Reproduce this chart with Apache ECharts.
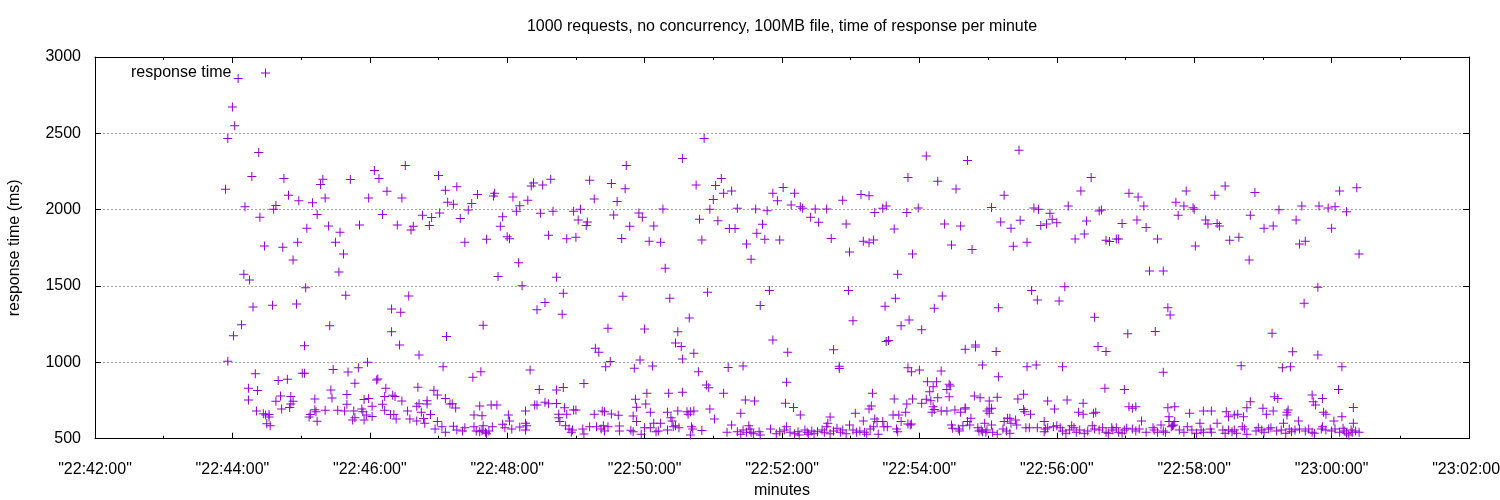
<!DOCTYPE html>
<html><head><meta charset="utf-8">
<script src="https://cdn.jsdelivr.net/npm/echarts@6/dist/echarts.min.js"></script>
<style>html,body{margin:0;padding:0;background:#fff;overflow:hidden}#chart{width:1500px;height:500px}</style>
</head><body><div id="chart"></div>
<script>
const chartTitle = "1000 requests, no concurrency, 100MB file, time of response per minute";
const seriesName = "response time";
const xAxisName = "minutes";
const yAxisName = "response time (ms)";
const xRange = ["22:42:00", "23:02:00"];
const xTickStepSec = 120;
const yRange = [500, 3000];
const yTickStep = 500;

// [time, response ms], grouped by region
const samplesA = [["22:44:05",2860],["22:44:00",2673],["22:44:02",2549],["22:43:56",2466],["22:44:23",2375],["22:44:17",2218],["22:43:54",2133],["22:44:45",2205],["22:45:19",2200],["22:45:17",2165],["22:45:43",2198],["22:46:04",2257],["22:46:08",2205],["22:46:31",2290],["22:47:00",2224],["22:44:49",2094],["22:44:58",2059],["22:45:10",2046],["22:45:21",2076],["22:45:59",2076],["22:46:15",2120],["22:46:28",2076],["22:47:06",2128],["22:47:08",2048],["22:44:11",2019],["22:44:38",2028],["22:44:36",2002],["22:44:24",1950],["22:45:14",1969],["22:46:11",1969],["22:46:46",1963],["22:47:01",1978],["22:46:54",1948],["22:46:52",1897],["22:46:38",1891],["22:46:36",1867],["22:46:24",1900],["22:45:51",1900],["22:45:24",1893],["22:45:05",1878],["22:45:34",1852],["22:45:30",1786],["22:44:57",1786],["22:44:28",1762],["22:44:44",1754],["22:45:37",1710],["22:44:53",1671],["22:45:33",1592],["22:44:10",1577],["22:44:15",1540],["22:45:04",1488],["22:45:39",1440],["22:46:34",1435],["22:44:18",1363],["22:44:35",1374],["22:44:56",1383],["22:46:19",1350],["22:46:27",1328],["22:44:08",1246],["22:45:25",1239],["22:46:19",1200],["22:44:01",1174],["22:46:26",1113],["22:45:03",1108],["22:46:43",1049],["22:43:56",1008],["22:45:58",1001],["22:47:04",971]];
const samplesB = [["22:44:20",926],["22:45:01",928],["22:45:03",928],["22:45:28",954],["22:45:41",937],["22:45:50",965],["22:44:40",882],["22:44:48",889],["22:45:47",863],["22:46:06",884],["22:46:07",891],["22:44:14",830],["22:44:22",815],["22:45:26",819],["22:46:14",830],["22:46:42",837],["22:46:56",817],["22:46:59",786],["22:44:14",754],["22:44:42",780],["22:44:51",776],["22:44:38",745],["22:44:53",745],["22:44:51",727],["22:45:12",760],["22:45:27",766],["22:45:40",790],["22:45:40",725],["22:45:55",756],["22:45:59",764],["22:46:13",776],["22:46:20",784],["22:46:22",777],["22:46:28",747],["22:46:11",725],["22:46:43",729],["22:46:50",749],["22:46:50",727],["22:47:06",764],["22:47:10",727],["22:44:21",681],["22:44:27",664],["22:44:29",655],["22:44:32",659],["22:44:30",598],["22:44:33",585],["22:44:32",642],["22:44:43",694],["22:44:50",705],["22:45:08",659],["22:45:07",642],["22:45:12",690],["22:45:13",677],["22:45:14",614],["22:45:21",686],["22:45:32",686],["22:45:38",681],["22:45:46",681],["22:45:45",622],["22:45:47",638],["22:45:53",694],["22:45:54",677],["22:45:55",622],["22:45:57",655],["22:46:02",712],["22:46:02",646],["22:46:13",686],["22:46:18",659],["22:46:21",659],["22:46:23",629],["22:46:33",681],["22:46:35",629],["22:46:41",712],["22:46:41",616],["22:46:45",673],["22:46:47",633],["22:46:48",601],["22:46:53",659],["22:46:59",612],["22:46:57",563],["22:47:03",579],["22:47:06",542]];
const samplesC = [["22:50:33",2336],["22:49:44",2290],["22:49:12",2192],["22:49:31",2172],["22:49:43",2137],["22:47:16",2150],["22:47:34",2100],["22:47:48",2089],["22:47:49",2107],["22:48:05",2083],["22:48:21",2155],["22:48:23",2174],["22:48:31",2161],["22:48:38",2200],["22:48:18",2061],["22:49:16",2070],["22:49:36",2054],["22:47:13",2035],["22:47:29",2041],["22:48:11",2026],["22:47:26",1998],["22:47:19",1943],["22:47:56",1954],["22:48:08",1989],["22:48:29",1976],["22:48:40",1989],["22:48:58",1989],["22:49:04",2002],["22:49:02",1932],["22:49:10",1919],["22:49:09",1897],["22:49:33",1965],["22:49:55",1978],["22:49:58",1950],["22:50:16",2004],["22:50:08",1893],["22:49:47",1891],["22:47:54",1891],["22:47:23",1786],["22:47:42",1806],["22:48:00",1823],["22:48:02",1810],["22:48:36",1832],["22:48:52",1810],["22:49:00",1819],["22:49:40",1812],["22:50:04",1793],["22:50:14",1786],["22:48:10",1653],["22:47:52",1562],["22:48:43",1557],["22:48:13",1501],["22:48:49",1453],["22:50:18",1616],["22:49:41",1433],["22:50:22",1420],["22:48:33",1392],["22:48:26",1344],["22:48:48",1315],["22:47:39",1243],["22:47:07",1170],["22:49:28",1224],["22:50:00",1219],["22:50:29",1200],["22:50:27",1126],["22:50:32",1104],["22:49:17",1093],["22:49:20",1067]];
const samplesD = [["22:47:30",902],["22:47:37",939],["22:48:20",950],["22:49:26",972],["22:49:30",1005],["22:49:51",961],["22:49:56",1015],["22:50:07",976],["22:50:33",1022],["22:49:07",862],["22:48:28",823],["22:48:43",819],["22:48:49",836],["22:47:12",729],["22:47:15",701],["22:47:36",714],["22:47:46",721],["22:47:51",721],["22:48:24",721],["22:48:26",721],["22:48:33",738],["22:48:36",729],["22:48:43",731],["22:48:16",681],["22:48:50",703],["22:48:52",660],["22:48:58",688],["22:49:00",688],["22:48:45",660],["22:48:45",638],["22:48:46",612],["22:49:16",660],["22:49:23",681],["22:49:25",677],["22:49:31",662],["22:49:37",653],["22:49:52",758],["22:49:53",706],["22:50:02",797],["22:50:01",727],["22:50:05",673],["22:49:50",649],["22:49:53",612],["22:50:21",797],["22:50:33",804],["22:50:20",673],["22:50:29",681],["22:50:23",638],["22:50:24",616],["22:50:27",585],["22:50:25",579],["22:47:13",581],["22:47:23",572],["22:47:21",550],["22:47:31",579],["22:47:33",550],["22:47:36",546],["22:47:38",555],["22:47:41",542],["22:47:42",533],["22:47:44",550],["22:47:39",585],["22:47:47",579],["22:47:31",655],["22:47:38",651],["22:48:01",655],["22:48:02",616],["22:47:56",594],["22:47:58",572],["22:48:04",564],["22:48:11",577],["22:48:16",601],["22:48:17",585],["22:48:16",557],["22:48:51",585],["22:48:54",564],["22:48:56",542],["22:48:57",557],["22:49:06",564],["22:49:07",531],["22:49:12",579],["22:49:18",579],["22:49:22",564],["22:49:24",585],["22:49:25",550],["22:49:28",579],["22:49:38",583],["22:49:38",550],["22:49:48",555],["22:49:50",546],["22:49:57",529],["22:50:00",572],["22:50:05",572],["22:50:08",601],["22:50:10",546],["22:50:12",550],["22:50:14",601],["22:50:20",557],["22:50:30",572],["22:47:16",557]];
const samplesE = [["22:50:52",2466],["22:50:45",2161],["22:51:07",2205],["22:51:02",2159],["22:51:09",2107],["22:51:00",2067],["22:51:16",2122],["22:50:57",2002],["22:50:48",1937],["22:51:04",1928],["22:51:14",1876],["22:51:19",1876],["22:51:21",2009],["22:50:50",1801],["22:51:29",1775],["22:51:33",1675],["22:51:37",2004],["22:51:38",1845],["22:51:43",1904],["22:51:45",1806],["22:51:47",1993],["22:51:52",2107],["22:51:56",2059],["22:51:58",1801],["22:52:01",2146],["22:52:08",2030],["22:52:11",2107],["22:52:16",2019],["22:52:18",2009],["22:52:25",1950],["22:52:29",2004],["22:52:32",1917],["22:52:39",2004],["22:52:43",1812],["22:52:53",2061],["22:52:56",1906],["22:52:59",1723],["22:53:09",2100],["22:53:16",2091],["22:53:11",1793],["22:53:16",1784],["22:53:20",1801],["22:53:21",1982],["22:53:28",2009],["22:53:31",2024],["22:53:38",1873],["22:53:41",1577],["22:53:49",1982],["22:53:50",2211],["22:53:54",1710],["22:53:59",2011],["22:50:55",1459],["22:51:49",1470],["22:51:41",1372],["22:52:58",1470],["22:53:02",1272],["22:53:39",1420],["22:53:30",1368],["22:53:51",1278],["22:53:44",1239],["22:54:02",1213],["22:50:39",1291],["22:51:52",1147],["22:53:31",1137],["22:53:33",1143],["22:50:43",1060],["22:52:05",1067],["22:52:45",1082]];
const samplesF = [["22:50:47",939],["22:51:13",967],["22:51:26",976],["22:52:50",975],["22:52:50",960],["22:53:50",965],["22:53:53",939],["22:52:04",869],["22:50:54",852],["22:50:56",834],["22:51:09",797],["22:51:28",754],["22:51:36",747],["22:52:03",732],["22:52:10",705],["22:53:19",797],["22:53:18",714],["22:53:16",694],["22:53:38",760],["22:53:49",727],["22:53:54",760],["22:50:37",677],["22:50:40",677],["22:50:43",681],["22:50:38",660],["22:50:57",694],["22:51:01",629],["22:51:24",666],["22:52:16",655],["22:52:42",642],["22:53:04",666],["22:53:11",616],["22:53:21",629],["22:53:23",612],["22:53:28",612],["22:53:37",655],["22:53:42",655],["22:53:48",673],["22:53:44",612],["22:53:50",596],["22:53:53",596],["22:50:41",579],["22:50:42",564],["22:50:40",525],["22:50:50",553],["22:51:12",542],["22:51:16",590],["22:51:21",546],["22:51:24",529],["22:51:26",557],["22:51:29",542],["22:51:31",585],["22:51:32",564],["22:51:33",542],["22:51:35",533],["22:51:40",546],["22:51:41",525],["22:51:50",564],["22:51:55",533],["22:51:58",546],["22:52:02",557],["22:52:04",579],["22:52:07",542],["22:52:11",533],["22:52:14",546],["22:52:15",525],["22:52:20",557],["22:52:22",542],["22:52:23",529],["22:52:26",550],["22:52:28",533],["22:52:31",546],["22:52:35",557],["22:52:37",542],["22:52:39",579],["22:52:40",601],["22:52:42",533],["22:52:45",550],["22:52:48",568],["22:52:51",542],["22:52:53",557],["22:52:56",533],["22:52:59",590],["22:53:02",557],["22:53:05",542],["22:53:08",550],["22:53:12",542],["22:53:14",529],["22:53:17",564],["22:53:20",579],["22:53:24",529],["22:53:29",579],["22:53:32",579],["22:53:40",564],["22:53:41",546],["22:53:52",590]];
const samplesG = [["22:54:06",2351],["22:55:27",2390],["22:54:42",2322],["22:54:16",2187],["22:54:32",2135],["22:55:14",2094],["22:56:30",2211],["22:56:21",2122],["22:57:03",2107],["22:57:11",2083],["22:57:16",2024],["22:55:03",2015],["22:55:40",2011],["22:55:44",2002],["22:55:54",1976],["22:56:10",2024],["22:56:37",1991],["22:56:39",1998],["22:54:22",1906],["22:54:36",1893],["22:55:11",1919],["22:55:20",1878],["22:55:28",1930],["22:55:46",1897],["22:55:51",1906],["22:55:56",1937],["22:56:00",1915],["22:56:26",1926],["22:56:57",1910],["22:57:10",1932],["22:57:18",1884],["22:56:24",1841],["22:56:16",1808],["22:56:43",1799],["22:56:46",1791],["22:56:52",1808],["22:56:54",1808],["22:57:28",1808],["22:54:28",1769],["22:54:46",1740],["22:55:22",1760],["22:55:34",1786],["22:57:21",1599],["22:57:33",1599],["22:55:38",1470],["22:55:43",1409],["22:56:07",1496],["22:56:02",1402],["22:54:20",1435],["22:54:13",1355],["22:55:09",1357],["22:56:33",1296],["22:57:02",1187],["22:57:26",1202],["22:54:40",1086],["22:54:49",1113],["22:54:49",1100],["22:55:07",1071],["22:56:36",1104],["22:56:43",1071]];
const samplesH = [["22:54:00",950],["22:54:19",944],["22:54:55",983],["22:55:09",906],["22:55:34",972],["22:55:42",983],["22:56:05",972],["22:54:07",873],["22:54:12",841],["22:54:15",873],["22:54:09",808],["22:54:26",856],["22:54:27",845],["22:54:24",823],["22:54:26",775],["22:54:02",732],["22:54:06",758],["22:54:10",749],["22:54:16",769],["22:54:12",710],["22:54:13",692],["22:54:11",673],["22:54:19",681],["22:54:24",681],["22:54:31",688],["22:54:36",673],["22:54:40",703],["22:54:40",694],["22:54:48",780],["22:54:53",769],["22:55:01",747],["22:55:08",771],["22:55:01",694],["22:54:59",681],["22:55:03",699],["22:55:01",666],["22:55:26",760],["22:55:31",791],["22:55:31",692],["22:55:32",677],["22:55:37",660],["22:55:52",747],["22:55:58",694],["22:56:09",753],["22:56:23",732],["22:56:19",673],["22:56:23",660],["22:56:32",666],["22:56:34",673],["22:56:42",830],["22:56:59",823],["22:57:03",710],["22:57:09",710],["22:57:06",699],["22:54:45",634],["22:54:44",590],["22:54:42",612],["22:54:28",590],["22:54:29",568],["22:54:34",564],["22:54:35",550],["22:54:38",585],["22:54:51",572],["22:54:52",550],["22:54:54",557],["22:54:55",546],["22:54:57",601],["22:54:58",542],["22:54:59",557],["22:55:03",590],["22:55:04",542],["22:55:08",529],["22:55:13",564],["22:55:14",612],["22:55:16",550],["22:55:17",634],["22:55:19",634],["22:55:20",601],["22:55:19",535],["22:55:24",623],["22:55:25",590],["22:55:33",572],["22:55:36",572],["22:55:43",572],["22:55:49",612],["22:55:50",564],["22:55:49",546],["22:55:52",572],["22:55:57",579],["22:56:00",585],["22:56:03",572],["22:56:05",550],["22:56:08",535],["22:56:11",557],["22:56:13",585],["22:56:15",572],["22:56:17",542],["22:56:20",557],["22:56:24",535],["22:56:27",550],["22:56:31",585],["22:56:33",564],["22:56:37",557],["22:56:40",572],["22:56:43",542],["22:56:45",535],["22:56:48",572],["22:56:49",557],["22:56:52",572],["22:56:54",542],["22:56:57",535],["22:56:59",557],["22:57:01",568],["22:57:06",564],["22:57:09",550],["22:57:12",564],["22:57:14",616]];
const samplesI = [["22:57:53",2122],["22:57:44",2048],["22:57:51",2024],["22:57:46",1963],["22:57:59",2013],["22:58:00",2002],["22:58:01",1762],["22:58:10",1932],["22:58:12",1906],["22:58:18",2094],["22:58:27",2155],["22:58:20",1910],["22:58:22",1893],["22:58:31",1799],["22:58:39",1819],["22:58:48",1671],["22:58:49",1963],["22:58:53",2113],["22:59:01",1878],["22:59:09",1893],["22:59:14",2000],["22:59:29",1932],["22:59:32",1775],["22:59:37",1793],["22:59:34",2024],["22:59:49",2024],["22:59:57",2011],["23:00:03",2019],["23:00:00",1878],["23:00:07",2122],["23:00:13",1987],["23:00:22",2144],["23:00:24",1710],["22:57:37",1357],["22:57:39",1311],["22:59:48",1492],["22:59:36",1387],["22:59:08",1191],["22:59:26",1069],["22:59:48",1049]];
const samplesJ = [["22:57:33",935],["22:58:41",978],["22:59:17",965],["22:59:24",972],["23:00:09",972],["23:00:06",823],["22:59:43",786],["22:59:44",742],["22:59:46",721],["22:59:52",764],["22:59:10",775],["22:59:13",764],["22:58:49",742],["22:58:46",703],["22:59:00",699],["22:59:09",681],["22:59:03",660],["22:57:37",703],["22:57:43",710],["22:57:38",644],["22:57:38",612],["22:57:42",590],["22:57:40",579],["22:57:43",612],["22:57:56",666],["22:58:08",681],["22:58:15",681],["22:58:28",677],["22:58:30",644],["22:58:35",655],["22:58:38",660],["22:58:43",644],["22:59:21",673],["22:59:22",688],["22:59:21",655],["22:59:31",616],["22:59:53",673],["22:59:55",660],["23:00:02",616],["23:00:09",644],["23:00:19",705],["22:57:18",542],["22:57:24",572],["22:57:25",557],["22:57:28",542],["22:57:31",590],["22:57:33",550],["22:57:35",542],["22:57:41",585],["22:57:47",557],["22:57:51",542],["22:57:54",579],["22:57:58",557],["22:58:02",535],["22:58:05",601],["22:58:06",557],["22:58:08",542],["22:58:14",564],["22:58:15",542],["22:58:20",601],["22:58:25",557],["22:58:27",535],["22:58:30",557],["22:58:33",546],["22:58:35",557],["22:58:37",535],["22:58:42",579],["22:58:44",564],["22:58:46",529],["22:58:54",550],["22:58:56",572],["22:58:59",557],["22:59:01",542],["22:59:05",564],["22:59:07",572],["22:59:12",550],["22:59:16",557],["22:59:18",601],["22:59:20",535],["22:59:23",564],["22:59:25",546],["22:59:28",557],["22:59:32",564],["22:59:37",550],["22:59:40",564],["22:59:43",542],["22:59:45",535],["22:59:51",564],["22:59:52",579],["22:59:55",557],["23:00:00",550],["23:00:03",564],["23:00:07",542],["23:00:10",568],["23:00:11",550],["23:00:13",535],["23:00:15",525],["23:00:17",557],["23:00:18",542],["23:00:21",550],["23:00:24",542],["23:00:19",601]];

const allSamples = [].concat(samplesA, samplesB, samplesC, samplesD, samplesE, samplesF, samplesG, samplesH, samplesI, samplesJ);

function toSec(s) { const p = s.split(':').map(Number); return p[0] * 3600 + p[1] * 60 + p[2]; }
function pad(n) { return (n < 10 ? '0' : '') + n; }
function fmtTime(v) {
  const h = Math.floor(v / 3600), m = Math.floor((v % 3600) / 60), s = Math.round(v % 60);
  return '"' + pad(h) + ':' + pad(m) + ':' + pad(s) + '"';
}

const FONT = 'Liberation Sans, Arial, Helvetica, sans-serif';
const PURPLE = '#9400D3';
const PLUS = 'path://M4,0H5V4H9V5H5V9H4V5H0V4H4Z';

const xMin = toSec(xRange[0]), xMax = toSec(xRange[1]);
const baseX = {
  type: 'value', min: xMin, max: xMax, interval: xTickStepSec,
  axisLine: { show: true, onZero: false, lineStyle: { color: '#000', width: 1 } },
  axisTick: { show: true, inside: true, length: 6, lineStyle: { color: '#000', width: 1 } },
  minorTick: { show: true, splitNumber: 2, length: 3, lineStyle: { color: '#000', width: 1 } },
  splitLine: { show: false }, minorSplitLine: { show: false }
};
const baseY = {
  type: 'value', min: yRange[0], max: yRange[1], interval: yTickStep,
  axisLine: { show: true, onZero: false, lineStyle: { color: '#000', width: 1 } },
  axisTick: { show: true, inside: true, length: 6, lineStyle: { color: '#000', width: 1 } }
};

const chart = echarts.init(document.getElementById('chart'), null, { renderer: 'canvas', width: 1500, height: 500 });
chart.setOption({
  animation: false,
  backgroundColor: '#fff',
  textStyle: { fontFamily: FONT },
  title: {
    text: chartTitle, left: 782, top: 19, textAlign: 'center', padding: 0,
    textStyle: { fontFamily: FONT, fontSize: 16, fontWeight: 'normal', color: '#000' }
  },
  legend: {
    data: [seriesName], left: 131, top: 65, padding: 0, align: 'right',
    itemWidth: 58, itemHeight: 9, icon: PLUS, selectedMode: false,
    textStyle: { fontFamily: FONT, fontSize: 16, color: '#000' }
  },
  grid: { left: 95, top: 57, width: 1374, height: 381.7, containLabel: false, outerBoundsMode: 'none' },
  xAxis: [
    Object.assign({}, baseX, {
      position: 'bottom',
      name: xAxisName, nameLocation: 'middle', nameGap: 34,
      nameTextStyle: { fontFamily: FONT, fontSize: 16, color: '#000' },
      axisLabel: { show: true, margin: 23, color: '#000', fontFamily: FONT, fontSize: 16, formatter: fmtTime, showMinLabel: true, showMaxLabel: true }
    }),
    Object.assign({}, baseX, { position: 'top', axisLabel: { show: false } })
  ],
  yAxis: [
    Object.assign({}, baseY, {
      position: 'left',
      name: yAxisName, nameLocation: 'middle', nameGap: 72,
      nameTextStyle: { fontFamily: FONT, fontSize: 16, color: '#000' },
      axisLabel: { show: true, margin: 14, color: '#000', fontFamily: FONT, fontSize: 16, formatter: function (v) { return String(v); } },
      splitLine: { show: true, lineStyle: { color: '#a0a0a0', width: 1, type: [2, 2] } }
    }),
    Object.assign({}, baseY, { position: 'right', axisLabel: { show: false }, splitLine: { show: false } })
  ],
  series: [{
    name: seriesName, type: 'scatter', xAxisIndex: 0, yAxisIndex: 0,
    symbol: PLUS, symbolSize: 9, symbolKeepAspect: true,
    itemStyle: { color: PURPLE, opacity: 1 },
    emphasis: { disabled: true },
    data: allSamples.map(function (d) { return [toSec(d[0]), d[1]]; })
  }]
});
</script>
</body></html>
